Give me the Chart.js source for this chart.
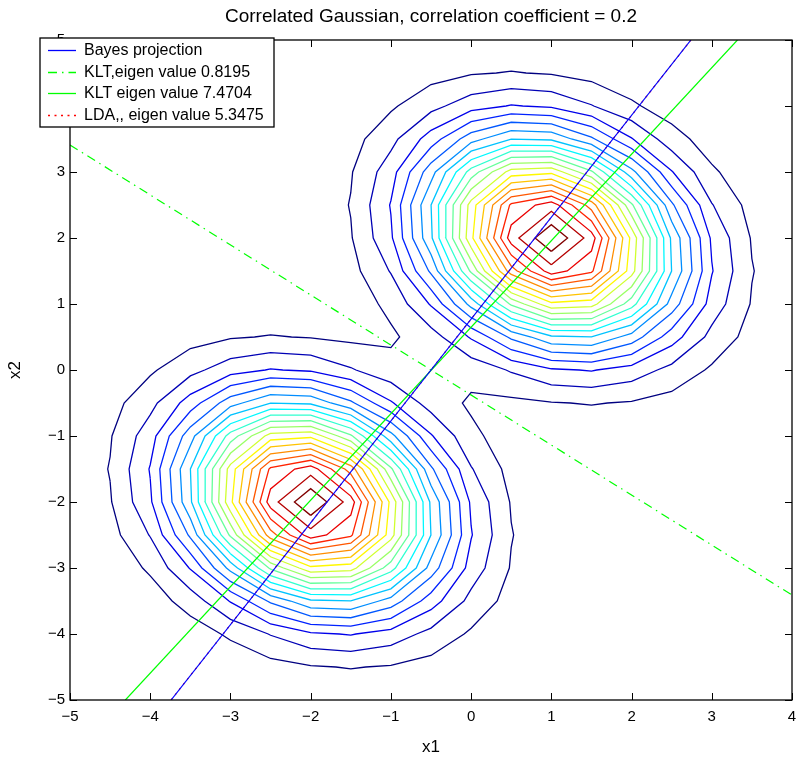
<!DOCTYPE html>
<html>
<head>
<meta charset="utf-8">
<script src="https://cdn.jsdelivr.net/npm/chart.js@4.4.1/dist/chart.umd.min.js"></script>
<style>
html,body{margin:0;padding:0;background:#ffffff;}
#wrap{width:799px;height:765px;position:relative;}
</style>
</head>
<body>
<div id="wrap"><canvas id="c" width="799" height="765"></canvas></div>
<script>
// ---------------- data ----------------
const titleText = 'Correlated Gaussian, correlation coefficient = 0.2';
const xAxisTitle = 'x1';
const yAxisTitle = 'x2';
const xTicks = [-5, -4, -3, -2, -1, 0, 1, 2, 3, 4];
const xTickLabels = ['\u22125', '\u22124', '\u22123', '\u22122', '\u22121', '0', '1', '2', '3', '4'];
const yTicks = [-5, -4, -3, -2, -1, 0, 1, 2, 3, 4, 5];
const yTickLabels = ['\u22125', '\u22124', '\u22123', '\u22122', '\u22121', '0', '1', '2', '3', '4', '5'];

// the two Gaussian classes (centres of the contour families)
const classMeanX = [1, -2];
const classMeanY = [2, -2];
// quadratic-form matrix of the plotted densities (unit variance, coefficient 0.2)
const covXX = 1;
const covXY = 0.2;
const covYY = 1;
// sampling grid of the contour routine and number of contour levels
const gridStart = -5;
const gridEnd = 5;
const gridStep = 0.5;
const contourLevelCount = 20;

// projection lines (end points)
const lineLabels = ['Bayes projection', 'KLT,eigen value 0.8195', 'KLT eigen value 7.4704', 'LDA,, eigen value 5.3475'];
const bayesX = [-3.74, 2.74];
const bayesY = [-5, 5];
const kltMinorX = [-5, 4];
const kltMinorY = [3.41, -3.41];
const kltMajorX = [-4.31, 3.32];
const kltMajorY = [-5, 5];
const ldaX = [-3.74, 2.74];
const ldaY = [-5, 5];

// ---------------- contour extraction (marching squares) ----------------
const gv = [];
for (let k = 0; gridStart + k * gridStep <= gridEnd + 1e-9; k++) gv.push(+(gridStart + k * gridStep).toFixed(6));
const n = gv.length;
function field(x, y) {
  let s = 0;
  for (let k = 0; k < classMeanX.length; k++) {
    const dx = x - classMeanX[k], dy = y - classMeanY[k];
    const q = covXX * dx * dx + 2 * covXY * dx * dy + covYY * dy * dy;
    s += Math.exp(-0.5 * q);
  }
  return s;
}
const Z = [];
let zmin = Infinity, zmax = -Infinity;
for (let i = 0; i < n; i++) {
  Z.push([]);
  for (let j = 0; j < n; j++) {
    const v = field(gv[i], gv[j]);
    Z[i].push(v);
    zmin = Math.min(zmin, v); zmax = Math.max(zmax, v);
  }
}
const levels = [];
for (let k = 1; k <= contourLevelCount; k++) levels.push(zmin + k * (zmax - zmin) / (contourLevelCount + 1));

function contourLines(L) {
  const segs = [];
  function cr(v1, v2, x1, y1, x2, y2) {
    const t = (L - v1) / (v2 - v1);
    return { x: x1 + t * (x2 - x1), y: y1 + t * (y2 - y1) };
  }
  for (let i = 0; i < n - 1; i++) {
    for (let j = 0; j < n - 1; j++) {
      const a = Z[i][j], b = Z[i + 1][j], c = Z[i + 1][j + 1], d = Z[i][j + 1];
      const sa = a > L, sb = b > L, sc = c > L, sd = d > L;
      const x0 = gv[i], x1 = gv[i + 1], y0 = gv[j], y1 = gv[j + 1];
      const E = {};
      if (sa !== sb) E.B = { k: 'h' + i + '_' + j, p: cr(a, b, x0, y0, x1, y0) };
      if (sb !== sc) E.R = { k: 'v' + (i + 1) + '_' + j, p: cr(b, c, x1, y0, x1, y1) };
      if (sd !== sc) E.T = { k: 'h' + i + '_' + (j + 1), p: cr(d, c, x0, y1, x1, y1) };
      if (sa !== sd) E.L = { k: 'v' + i + '_' + j, p: cr(a, d, x0, y0, x0, y1) };
      const keys = Object.keys(E);
      if (keys.length === 2) {
        segs.push([E[keys[0]], E[keys[1]]]);
      } else if (keys.length === 4) {
        const sCenter = (a + b + c + d) / 4 > L;
        if (sCenter === sa) { segs.push([E.B, E.R]); segs.push([E.T, E.L]); }
        else { segs.push([E.B, E.L]); segs.push([E.R, E.T]); }
      }
    }
  }
  const map = new Map();
  segs.forEach((s, idx) => {
    for (const e of s) { if (!map.has(e.k)) map.set(e.k, []); map.get(e.k).push(idx); }
  });
  const used = new Array(segs.length).fill(false);
  const lines = [];
  function walk(start, key) {
    const pts = [];
    let idx = start;
    const s0 = segs[idx];
    pts.push(s0[0].k === key ? s0[0].p : s0[1].p);
    while (idx !== -1 && !used[idx]) {
      used[idx] = true;
      const s = segs[idx];
      const other = s[0].k === key ? s[1] : s[0];
      pts.push(other.p);
      key = other.k;
      const nx = map.get(key).find(m => !used[m]);
      idx = nx === undefined ? -1 : nx;
    }
    return pts;
  }
  for (const [k, arr] of map) if (arr.length === 1 && !used[arr[0]]) lines.push(walk(arr[0], k));
  for (let i = 0; i < segs.length; i++) if (!used[i]) lines.push(walk(i, segs[i][0].k));
  return lines;
}

function jet(t) {
  const c = v => Math.max(0, Math.min(1, v));
  const r = c(1.5 - Math.abs(4 * t - 3)), g = c(1.5 - Math.abs(4 * t - 2)), b = c(1.5 - Math.abs(4 * t - 1));
  return 'rgb(' + Math.round(r * 255) + ',' + Math.round(g * 255) + ',' + Math.round(b * 255) + ')';
}

const datasets = [];
levels.forEach((L, k) => {
  const data = [];
  contourLines(L).forEach((pl, m) => {
    if (m > 0) data.push({ x: null, y: null });
    pl.forEach(p => data.push(p));
  });
  datasets.push({
    label: 'level ' + (k + 1), data, showLine: true, pointRadius: 0, borderWidth: 1.3,
    borderColor: jet(k / (contourLevelCount - 1)), fill: false, spanGaps: false, order: 10, isContour: true
  });
});

function pts(xs, ys) { return xs.map((x, i) => ({ x, y: ys[i] })); }
datasets.push({ label: lineLabels[0], data: pts(bayesX, bayesY), showLine: true, pointRadius: 0, borderWidth: 1.2, borderColor: '#0000ff', order: 1 });
datasets.push({ label: lineLabels[1], data: pts(kltMinorX, kltMinorY), showLine: true, pointRadius: 0, borderWidth: 1.2, borderColor: '#00ff00', borderDash: [9, 5, 1.5, 5], order: 2 });
datasets.push({ label: lineLabels[2], data: pts(kltMajorX, kltMajorY), showLine: true, pointRadius: 0, borderWidth: 1.2, borderColor: '#00ff00', order: 3 });
datasets.push({ label: lineLabels[3], data: pts(ldaX, ldaY), showLine: true, pointRadius: 0, borderWidth: 1.2, borderColor: '#ff0000', borderDash: [2, 4.5], order: 4 });

// ---------------- plugins: frame with inward ticks, boxed legend ----------------
const framePlugin = {
  id: 'frame',
  afterDatasetsDraw(chart) {
    const { ctx, chartArea: a, scales } = chart;
    ctx.save();
    ctx.strokeStyle = '#000000';
    ctx.lineWidth = 1.3;
    ctx.strokeRect(a.left, a.top, a.right - a.left, a.bottom - a.top);
    ctx.lineWidth = 1;
    ctx.beginPath();
    xTicks.forEach(v => {
      const px = Math.round(scales.x.getPixelForValue(v)) + 0.5;
      ctx.moveTo(px, a.bottom); ctx.lineTo(px, a.bottom - 7);
      ctx.moveTo(px, a.top); ctx.lineTo(px, a.top + 7);
    });
    yTicks.forEach(v => {
      const py = Math.round(scales.y.getPixelForValue(v)) + 0.5;
      ctx.moveTo(a.left, py); ctx.lineTo(a.left + 7, py);
      ctx.moveTo(a.right, py); ctx.lineTo(a.right - 7, py);
    });
    ctx.stroke();
    ctx.restore();
  }
};

const legendPlugin = {
  id: 'boxLegend',
  afterDraw(chart) {
    const { ctx, chartArea: a } = chart;
    const items = chart.data.datasets.filter(d => !d.isContour);
    const order = lineLabels.map(l => items.find(d => d.label === l));
    const left = a.left - 30, top = a.top - 2, w = 234, h = 89;
    ctx.save();
    ctx.fillStyle = '#ffffff';
    ctx.fillRect(left, top, w, h);
    ctx.strokeStyle = '#000000';
    ctx.lineWidth = 1.3;
    ctx.strokeRect(left, top, w, h);
    ctx.font = '16px "Liberation Sans", Arial, sans-serif';
    ctx.textBaseline = 'middle';
    ctx.textAlign = 'left';
    order.forEach((d, i) => {
      const cy = Math.round(top + 12 + i * 21.5) + 0.5;
      ctx.strokeStyle = d.borderColor;
      ctx.lineWidth = 1.3;
      ctx.setLineDash(d.borderDash || []);
      ctx.beginPath();
      ctx.moveTo(left + 8, cy); ctx.lineTo(left + 36, cy);
      ctx.stroke();
      ctx.setLineDash([]);
      ctx.fillStyle = '#000000';
      ctx.fillText(d.label, left + 44, cy);
    });
    ctx.restore();
  }
};

const fontFamily = '"Liberation Sans", Arial, Helvetica, sans-serif';
new Chart(document.getElementById('c'), {
  type: 'scatter',
  data: { datasets },
  options: {
    responsive: false,
    animation: false,
    devicePixelRatio: 1,
    layout: { padding: { left: 0, right: 7, top: 0, bottom: 0 } },
    plugins: {
      legend: { display: false },
      tooltip: { enabled: false },
      title: {
        display: true, text: titleText, fullSize: false, color: '#000000',
        font: { family: fontFamily, size: 19, weight: 'normal', lineHeight: 1.2 },
        padding: { top: 5.6, bottom: 11.6 }
      }
    },
    scales: {
      x: {
        type: 'linear', min: -5, max: 4,
        afterFit: s => { s.height = 65; s.paddingLeft = 0; s.paddingRight = 0; },
        afterBuildTicks: s => { s.ticks = xTicks.map(v => ({ value: v })); },
        grid: { display: false, drawTicks: false },
        border: { display: false },
        ticks: {
          color: '#000000', padding: 8, autoSkip: false, maxRotation: 0,
          font: { family: fontFamily, size: 15 },
          callback: v => xTickLabels[xTicks.indexOf(v)]
        },
        title: { display: true, text: xAxisTitle, color: '#000000', font: { family: fontFamily, size: 17 }, padding: { top: 4, bottom: 7 } }
      },
      y: {
        type: 'linear', min: -5, max: 5,
        afterFit: s => { s.width = 70; s.paddingTop = 0; s.paddingBottom = 0; },
        afterBuildTicks: s => { s.ticks = yTicks.map(v => ({ value: v })); },
        grid: { display: false, drawTicks: false },
        border: { display: false },
        ticks: {
          color: '#000000', padding: 5, autoSkip: false,
          font: { family: fontFamily, size: 15 },
          callback: v => yTickLabels[yTicks.indexOf(v)]
        },
        title: { display: true, text: yAxisTitle, color: '#000000', font: { family: fontFamily, size: 17 }, padding: { top: 5, bottom: 0 } }
      }
    }
  },
  plugins: [framePlugin, legendPlugin]
});
</script>
</body>
</html>
